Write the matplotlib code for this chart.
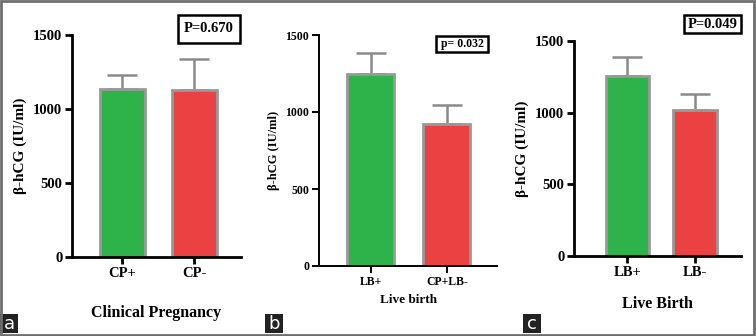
import numpy as np
import matplotlib
matplotlib.use("Agg")
import matplotlib.pyplot as plt
from matplotlib.patches import Rectangle

plt.rcParams['font.family'] = ['Liberation Serif', 'DejaVu Serif']

W, H = 756, 336

# data
cats_a = ["CP+", "CP-"]
mean_a = [1135, 1128]
err_a = [95, 210]
p_a = "P=0.670"
xlab_a = "Clinical Pregnancy"

cats_b = ["LB+", "CP+LB-"]
mean_b = [1247, 922]
err_b = [136, 123]
p_b = "p= 0.032"
xlab_b = "Live birth"

cats_c = ["LB+", "LB-"]
mean_c = [1256, 1019]
err_c = [132, 111]
p_c = "P=0.049"
xlab_c = "Live Birth"

yticks = [0, 500, 1000, 1500]
ylab = "β-hCG (IU/ml)"
green = "#2db34a"
red = "#ec4143"


def px_axes(fig, l, r, b, t):
    return fig.add_axes([l / W, 1 - b / H, (r - l) / W, (b - t) / H])


def panel(fig, box, cats, means, errs, xlim, bw, fs, spine_lw, ptxt, pbox, xlab, xlab_y, letter, letter_x):
    ax = px_axes(fig, *box)
    x = np.arange(len(cats))
    ax.bar(x, means, width=bw, color=[green, red], edgecolor="#999999", linewidth=2, zorder=2)
    ax.errorbar(x, means, yerr=[np.zeros(len(errs)), errs], fmt="none", ecolor="#8a8a8a",
                elinewidth=1.8, capsize=11, capthick=1.8, zorder=1)
    ax.set_xlim(*xlim)
    ax.set_ylim(0, 1500)
    ax.set_yticks(yticks)
    ax.set_xticks(x)
    ax.set_xticklabels(cats, fontsize=fs, fontweight="bold")
    ax.set_yticklabels([str(v) for v in yticks], fontsize=fs, fontweight="bold")
    for s in ["top", "right"]:
        ax.spines[s].set_visible(False)
    for s in ["left", "bottom"]:
        ax.spines[s].set_linewidth(spine_lw)
    ax.tick_params(axis="both", width=spine_lw, length=5, direction="out", pad=2)
    ax.set_ylabel(ylab, fontsize=fs + 0.5, fontweight="bold", labelpad=4)
    # p-value box
    l, r, b, t = pbox
    fig.patches.append(Rectangle((l / W, 1 - b / H), (r - l) / W, (b - t) / H,
                                 transform=fig.transFigure, fill=False, edgecolor="black", linewidth=1.8))
    fig.text((l + r) / 2 / W, 1 - (b + t) / 2 / H, ptxt, ha="center", va="center",
             fontsize=fs, fontweight="bold")
    fig.text((box[0] + box[1]) / 2 / W, 1 - xlab_y / H, xlab, ha="center", va="center",
             fontsize=fs + 1, fontweight="bold")
    # panel letter
    fig.patches.append(Rectangle((letter_x / W, 1 - 333 / H), 18 / W, 19 / H,
                                 transform=fig.transFigure, facecolor="#222222", edgecolor="none"))
    fig.text((letter_x + 9) / W, 1 - 324 / H, letter, ha="center", va="center", color="white",
             fontsize=13, family="DejaVu Sans")
    return ax


fig = plt.figure(figsize=(W / 100, H / 100), dpi=100)

panel(fig, (72, 241, 257, 35), cats_a, mean_a, err_a, (-0.70, 1.65), 0.62, 10.5, 2.0,
      p_a, (178, 240, 43, 15), xlab_a, 313, "a", 0)
panel(fig, (319, 497, 266, 35), cats_b, mean_b, err_b, (-0.68, 1.66), 0.62, 8.5, 1.4,
      p_b, (436, 488, 52, 36), xlab_b, 300, "b", 265)
panel(fig, (574, 741, 256, 41), cats_c, mean_c, err_c, (-0.79, 1.68), 0.64, 10.5, 2.0,
      p_c, (684, 741, 33, 15), xlab_c, 304, "c", 523)

# outer frame
fig.patches.append(Rectangle((0.001, 0.003), 0.997, 0.994, transform=fig.transFigure,
                             fill=False, edgecolor="#6e6e6e", linewidth=2))

fig.savefig("out.png", dpi=100)
